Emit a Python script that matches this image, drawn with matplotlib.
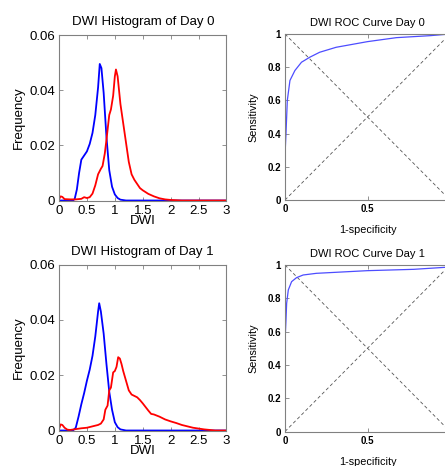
import matplotlib
matplotlib.use("Agg")
import matplotlib.pyplot as plt

plt.rcParams['font.family'] = ['Liberation Sans', 'DejaVu Sans']

# ---- Histogram data (DWI vs Frequency) ----
d0_blue_x = [0.0, 0.25, 0.28, 0.32, 0.36, 0.40, 0.45, 0.50, 0.55, 0.60, 0.65, 0.70, 0.73, 0.76, 0.80, 0.85, 0.90, 0.95, 1.00, 1.05, 1.10, 1.20, 3.0]
d0_blue_y = [0.0, 0.0, 0.0005, 0.004, 0.010, 0.0148, 0.0163, 0.0178, 0.0205, 0.0245, 0.031, 0.041, 0.0495, 0.048, 0.039, 0.023, 0.011, 0.005, 0.0022, 0.0009, 0.0003, 0.0, 0.0]

d0_red_x = [0.0, 0.03, 0.06, 0.1, 0.2, 0.3, 0.4, 0.45, 0.5, 0.55, 0.6, 0.65, 0.7, 0.75, 0.78, 0.82, 0.85, 0.9, 0.93, 0.97, 1.0, 1.02, 1.05, 1.1, 1.15, 1.2, 1.25, 1.3, 1.35, 1.4, 1.45, 1.5, 1.6, 1.7, 1.8, 1.9, 2.0, 2.2, 3.0]
d0_red_y = [0.0005, 0.0015, 0.0013, 0.0005, 0.0004, 0.0004, 0.0006, 0.0012, 0.0009, 0.0012, 0.0025, 0.0055, 0.0095, 0.0115, 0.0125, 0.017, 0.022, 0.031, 0.033, 0.038, 0.045, 0.0475, 0.045, 0.035, 0.028, 0.021, 0.014, 0.0095, 0.0075, 0.006, 0.0045, 0.0037, 0.0024, 0.0015, 0.0008, 0.0004, 0.0002, 0.0, 0.0]

d1_blue_x = [0.0, 0.25, 0.3, 0.35, 0.4, 0.45, 0.5, 0.55, 0.6, 0.65, 0.7, 0.72, 0.75, 0.8, 0.85, 0.9, 0.95, 1.0, 1.05, 1.1, 1.2, 3.0]
d1_blue_y = [0.0, 0.0, 0.001, 0.005, 0.0095, 0.0135, 0.018, 0.022, 0.027, 0.034, 0.043, 0.046, 0.043, 0.035, 0.024, 0.014, 0.0075, 0.003, 0.0012, 0.0004, 0.0, 0.0]

d1_red_x = [0.0, 0.03, 0.06, 0.1, 0.15, 0.2, 0.3, 0.4, 0.5, 0.6, 0.7, 0.75, 0.8, 0.83, 0.87, 0.9, 0.93, 0.97, 1.0, 1.03, 1.06, 1.09, 1.12, 1.15, 1.2, 1.25, 1.3, 1.35, 1.4, 1.45, 1.5, 1.55, 1.6, 1.65, 1.7, 1.8, 1.9, 2.0, 2.1, 2.2, 2.3, 2.4, 2.5, 2.6, 2.7, 2.8, 3.0]
d1_red_y = [0.0005, 0.0022, 0.002, 0.001, 0.0003, 0.0002, 0.0005, 0.0008, 0.001, 0.0015, 0.002, 0.0025, 0.004, 0.0075, 0.009, 0.0145, 0.0155, 0.021, 0.0215, 0.023, 0.0265, 0.026, 0.024, 0.0215, 0.018, 0.0145, 0.013, 0.0125, 0.012, 0.011, 0.0098, 0.0085, 0.0072, 0.006, 0.0058, 0.005, 0.004, 0.0033, 0.0027, 0.002, 0.0015, 0.001, 0.0007, 0.0004, 0.0002, 0.0, 0.0]

# ---- ROC data (1-specificity vs sensitivity) ----
roc0_fpr = [0.0, 0.0, 0.006, 0.014, 0.03, 0.06, 0.10, 0.15, 0.21, 0.31, 0.50, 0.675, 0.88, 1.0]
roc0_tpr = [0.0, 0.27, 0.40, 0.60, 0.72, 0.78, 0.83, 0.86, 0.89, 0.92, 0.954, 0.978, 0.99, 1.0]
roc1_fpr = [0.0, 0.0, 0.006, 0.01, 0.02, 0.04, 0.07, 0.11, 0.19, 0.50, 0.78, 0.97, 1.0]
roc1_tpr = [0.0, 0.54, 0.67, 0.77, 0.85, 0.90, 0.924, 0.94, 0.95, 0.966, 0.974, 0.986, 1.0]

hist_xticks = [0, 0.5, 1, 1.5, 2, 2.5, 3]
hist_xticklabels = ['0', '0.5', '1', '1.5', '2', '2.5', '3']
hist_yticks = [0, 0.02, 0.04, 0.06]
hist_yticklabels = ['0', '0.02', '0.04', '0.06']
roc_xticks = [0, 0.5, 1]
roc_xticklabels = ['0', '0.5', '']  # the '1' label falls outside the cropped figure
roc_yticks = [0, 0.2, 0.4, 0.6, 0.8, 1]
roc_yticklabels = ['0', '0.2', '0.4', '0.6', '0.8', '1']

W, H = 445, 466
fig = plt.figure(figsize=(W / 100, H / 100), dpi=100)

def rect(l, t, r, b):
    return [l / W, 1 - b / H, (r - l) / W, (b - t) / H]

frame_col = '#808080'

def style(ax, fs, weight):
    for s in ax.spines.values():
        s.set_color(frame_col)
        s.set_linewidth(0.8)
    ax.tick_params(direction='in', top=True, right=True, length=3, width=0.6,
                   color=frame_col, labelsize=fs, pad=3)
    for lab in ax.get_xticklabels() + ax.get_yticklabels():
        lab.set_fontweight(weight)

def hist_ax(pos, bx, by, rx, ry, title):
    ax = fig.add_axes(pos)
    ax.plot(bx, by, color='#0000ff', lw=1.3)
    ax.plot(rx, ry, color='#ff0000', lw=1.3)
    ax.set_xlim(0, 3)
    ax.set_ylim(0, 0.06)
    ax.set_xticks(hist_xticks)
    ax.set_xticklabels(hist_xticklabels)
    ax.set_yticks(hist_yticks)
    ax.set_yticklabels(hist_yticklabels)
    style(ax, 9.5, 'normal')
    ax.set_title(title, fontsize=9.5, pad=7)
    ax.set_xlabel('DWI', fontsize=9.5, labelpad=-1)
    ax.set_ylabel('Frequency', fontsize=9.5, labelpad=3)
    return ax

def roc_ax(pos, fx, ty, title):
    ax = fig.add_axes(pos)
    ax.plot([0, 1], [0, 1], color='#555555', lw=0.6, ls=(0, (4, 3)))
    ax.plot([0, 1], [1, 0], color='#555555', lw=0.6, ls=(0, (4, 3)))
    ax.plot(fx, ty, color='#4d4dff', lw=0.9)
    ax.set_xlim(0, 1)
    ax.set_ylim(0, 1)
    ax.set_xticks(roc_xticks)
    ax.set_xticklabels(roc_xticklabels)
    ax.set_yticks(roc_yticks)
    ax.set_yticklabels(roc_yticklabels)
    style(ax, 7, 'bold')
    ax.set_title(title, fontsize=8, pad=6)
    ax.set_xlabel('1-specificity', fontsize=7.8, labelpad=8)
    ax.set_ylabel('Sensitivity', fontsize=7.8, labelpad=6)
    return ax

hist_ax(rect(59, 35, 226.5, 200.5), d0_blue_x, d0_blue_y, d0_red_x, d0_red_y, 'DWI Histogram of Day 0')
hist_ax(rect(59, 264.5, 226.5, 430.5), d1_blue_x, d1_blue_y, d1_red_x, d1_red_y, 'DWI Histogram of Day 1')
roc_ax(rect(285, 34, 450, 200), roc0_fpr, roc0_tpr, 'DWI ROC Curve Day 0')
roc_ax(rect(285, 265, 450, 431.5), roc1_fpr, roc1_tpr, 'DWI ROC Curve Day 1')

fig.savefig('out.png', dpi=100)
